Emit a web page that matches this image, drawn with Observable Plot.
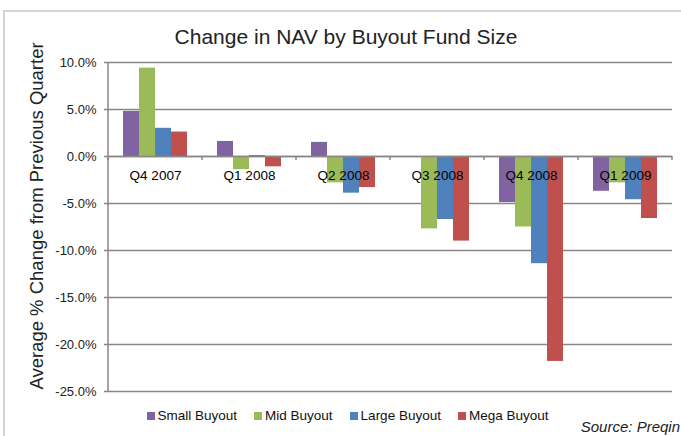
<!DOCTYPE html>
<html>
<head>
<meta charset="utf-8">
<script src="https://cdn.jsdelivr.net/npm/d3@7"></script>
<script src="https://cdn.jsdelivr.net/npm/@observablehq/plot@0.6"></script>
<style>
  html, body { margin: 0; padding: 0; background: #fff; }
  body { font-family: "Liberation Sans", Arial, sans-serif; }
  #wrap { position: relative; width: 681px; height: 436px; overflow: hidden; background: #fff; }
  #border { position: absolute; left: 3px; top: 10px; width: 700px; height: 460px; border: 2px solid #d4d4d4; box-sizing: border-box; }
  #chart { position: absolute; left: 0; top: 0; }
  #title { position: absolute; left: 0; width: 692px; top: 25.5px; text-align: center; font-size: 21px; line-height: 21px; color: #222; white-space: nowrap; }
  #ylabel { position: absolute; left: 36.5px; top: 216px; transform: translate(-50%, -50%) rotate(-90deg); font-size: 18.5px; line-height: 18.5px; color: #222; white-space: nowrap; }
  #legend { position: absolute; left: 0; width: 695px; top: 407.5px; display: flex; justify-content: center; gap: 17px; font-size: 13.5px; line-height: 16px; color: #111; }
  .item { display: flex; align-items: center; white-space: nowrap; }
  .sw { width: 8px; height: 8px; margin-right: 3px; display: inline-block; }
  #source { position: absolute; right: 1px; top: 418.5px; font-size: 15px; line-height: 16px; font-style: italic; color: #222; white-space: nowrap; }
</style>
</head>
<body>
<div id="wrap">
  <div id="border"></div>
  <div id="chart"></div>
  <div id="title"></div>
  <div id="ylabel"></div>
  <div id="legend"></div>
  <div id="source"></div>
</div>
<script>
const titleText = "Change in NAV by Buyout Fund Size";
const yLabelText = "Average % Change from Previous Quarter";
const sourceText = "Source: Preqin";
const quarters = ["Q4 2007", "Q1 2008", "Q2 2008", "Q3 2008", "Q4 2008", "Q1 2009"];
const seriesNames = ["Small Buyout", "Mid Buyout", "Large Buyout", "Mega Buyout"];
const smallBuyout = [4.8, 1.6, 1.5, 0.0, -4.9, -3.7];
const midBuyout = [9.4, -1.4, -2.8, -7.7, -7.5, -2.8];
const largeBuyout = [3.0, 0.1, -3.9, -6.7, -11.4, -4.6];
const megaBuyout = [2.6, -1.1, -3.3, -9.0, -21.8, -6.6];
const seriesColors = ["#8064A2", "#9BBB59", "#4F81BD", "#C0504D"];
const yTicks = [10, 5, 0, -5, -10, -15, -20, -25];

const seriesValues = [smallBuyout, midBuyout, largeBuyout, megaBuyout];
const data = quarters.flatMap((q, i) =>
  seriesNames.map((s, j) => ({ quarter: q, series: s, value: seriesValues[j][i] }))
);

const gridColor = "#878787";

const chart = Plot.plot({
  width: 681,
  height: 436,
  marginLeft: 107,
  marginRight: 8,
  marginTop: 62,
  marginBottom: 45,
  style: { fontFamily: "'Liberation Sans', Arial, sans-serif", background: "transparent", overflow: "visible" },
  fx: { domain: quarters, axis: null, padding: 0 },
  x: { domain: seriesNames, axis: null, paddingInner: 0, paddingOuter: 0.77 },
  y: { domain: [d3.min(yTicks), d3.max(yTicks)], axis: null },
  color: { domain: seriesNames, range: seriesColors },
  marks: [
    Plot.ruleY(yTicks, { stroke: gridColor, strokeWidth: 1.5 }),
    Plot.barY(data, { fx: "quarter", x: "series", y: "value", fill: "series" }),
    Plot.ruleY([0], { stroke: gridColor, strokeWidth: 1.5 }),
    Plot.text(quarters, { fx: d => d, y: () => 0, text: d => d, dy: 19, fill: "#000", fontSize: 13.5 }),
    Plot.axisY(yTicks, {
      tickSize: 4,
      tickPadding: 8,
      tickFormat: d => d.toFixed(1) + "%",
      fontSize: 13,
      stroke: gridColor,
      strokeWidth: 1.5,
      fill: "#222",
      label: null
    })
  ]
});

// axis line and category boundary ticks, positioned from Plot's own scales
const fxS = chart.scale("fx");
const yS = chart.scale("y");
const svg = d3.select(chart);
const g = svg.append("g").attr("stroke", gridColor).attr("stroke-width", 1.5);
const y0 = yS.apply(0);
const xLeft = fxS.apply(quarters[0]);
g.append("line")
  .attr("x1", xLeft).attr("x2", xLeft)
  .attr("y1", yS.apply(d3.max(yTicks))).attr("y2", yS.apply(d3.min(yTicks)));
const bounds = [xLeft, ...quarters.map(q => fxS.apply(q) + fxS.bandwidth)];
bounds.forEach(x => {
  g.append("line").attr("x1", x).attr("x2", x).attr("y1", y0).attr("y2", y0 + 4);
});

document.getElementById("chart").appendChild(chart);
document.getElementById("title").textContent = titleText;
document.getElementById("ylabel").textContent = yLabelText;
document.getElementById("source").textContent = sourceText;

const legend = d3.select("#legend");
seriesNames.forEach((s, i) => {
  const it = legend.append("div").attr("class", "item");
  it.append("span").attr("class", "sw").style("background", seriesColors[i]);
  it.append("span").text(s);
});
</script>
</body>
</html>
